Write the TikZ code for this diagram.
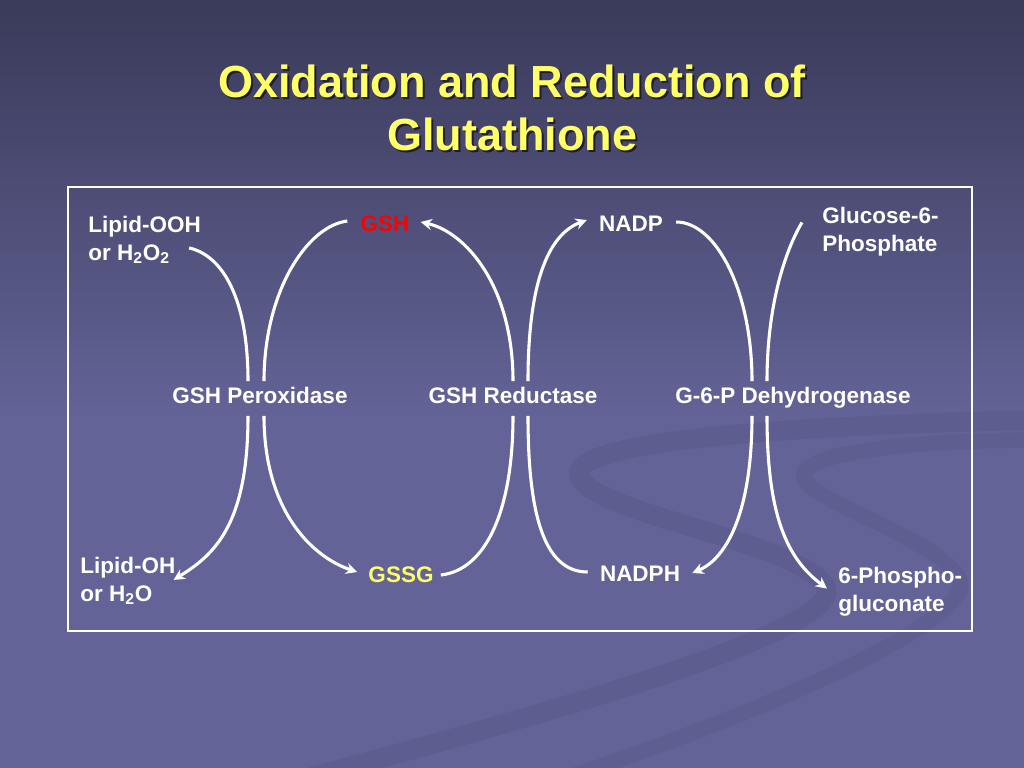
\documentclass[tikz,border=0pt]{standalone}
\usepackage{fontspec}
\setmainfont{Liberation Sans}
\usepackage{tikz}
\usetikzlibrary{arrows.meta}
\usetikzlibrary{calc}
\definecolor{slidetop}{RGB}{58,58,90}
\definecolor{slidebot}{RGB}{99,99,151}
\definecolor{titleyellow}{RGB}{255,255,102}
\definecolor{titleshade}{RGB}{28,28,45}
\definecolor{gshred}{RGB}{255,0,0}
\tikzset{>={Stealth[length=8pt,width=8pt]}}

\begin{document}
\begin{tikzpicture}[x=0.025cm, y=-0.025cm,
    every node/.style={text=white, inner sep=5pt, font=\bfseries\fontsize{16}{20}\selectfont},
    titletext/.style={align=center, inner sep=0pt, font=\bfseries\fontsize{32}{37.7}\selectfont},
    multi/.style={anchor=north west, align=left},
    enzyme/.style={anchor=base, text height=0.75em, text depth=0.25em},
    flow/.style={draw=white, line width=2.2pt}]

    % slide background
    \useasboundingbox (0,0) rectangle (1024,768);
    \fill[slidebot] (0,0) rectangle (1024,768);
    \shade[top color=slidetop, bottom color=slidebot] (0,0) rectangle (1024,420);
    \draw[black, opacity=0.05, line width=14pt]
        (1040,420) .. controls (800,425) and (560,440) .. (580,478)
        .. controls (600,515) and (790,540) .. (825,585)
        .. controls (850,625) and (600,700) .. (300,780);
    \draw[black, opacity=0.045, line width=11pt]
        (1040,440) .. controls (900,440) and (790,455) .. (805,480)
        .. controls (820,505) and (940,540) .. (960,580)
        .. controls (975,615) and (800,700) .. (560,780);

    % title
    \node[titletext, text=titleshade] (titleshadow) at (514,110) {Oxidation and Reduction of\\Glutathione};
    \node[titletext, text=titleyellow] (title) at (512,108) {Oxidation and Reduction of\\Glutathione};

    % frame
    \draw[white, line width=1pt] (68,187) rectangle (972,631);

    % substances
    \node[multi] (ooh) at (81,208.6) {Lipid-OOH\\or H\textsubscript{2}O\textsubscript{2}};
    \node[text=gshred] (gsh) at (385,224) {GSH};
    \node (nadp) at (631,224) {NADP};
    \node[multi] (g6p) at (815,199.6) {Glucose-6-\\Phosphate};
    \node[multi] (oh) at (73,549.6) {Lipid-OH\\or H\textsubscript{2}O};
    \node[text=titleyellow] (gssg) at (401,575) {GSSG};
    \node (nadph) at (640,574) {NADPH};
    \node[multi] (phos) at (831,559.6) {6-Phospho-\\gluconate};

    % enzymes
    \node[enzyme] (perox) at (260,403) {GSH Peroxidase};
    \node[enzyme] (reduc) at (513,403) {GSH Reductase};
    \node[enzyme] (dehyd) at (793,403) {G-6-P Dehydrogenase};

    % peroxidase
    \draw[flow] ($(ooh.east)+(-19,8)$) .. controls +(35,8) and +(0,-80) .. ($(perox.north)+(-12,-4)$);
    \draw[flow] ($(perox.north)+(4,-4)$) .. controls +(0,-90) and +(-40,5) .. ($(gsh.west)+(-6,-3)$);
    \draw[flow,->] ($(perox.south)+(-12,2)$) .. controls +(0,110) and +(40,-25) .. ($(oh.east)+(-9,-1)$);
    \draw[flow,->] ($(perox.south)+(4,2)$) .. controls +(0,95) and +(-45,-15) .. ($(gssg.west)+(-4,-3)$);

    % reductase
    \draw[flow] (gssg.east) .. controls +(45,-5) and +(0,95) .. ($(reduc.south)+(0,2)$);
    \draw[flow] ($(reduc.south)+(15,2)$) .. controls +(0,95) and +(-45,0) .. ($(nadph.west)+(-5,-2)$);
    \draw[flow,->] ($(reduc.north)+(0,-4)$) .. controls +(0,-95) and +(45,10) .. ($(gsh.east)+(4,-2)$);
    \draw[flow,->] ($(reduc.north)+(15,-4)$) .. controls +(0,-95) and +(-40,15) .. ($(nadp.west)+(-5,-4)$);

    % dehydrogenase
    \draw[flow] ($(nadp.east)+(6,-2)$) .. controls +(40,0) and +(0,-90) .. ($(dehyd.north)+(-41,-4)$);
    \draw[flow] ($(dehyd.north)+(-26,-4)$) .. controls +(0,-80) and +(-15,25) .. ($(g6p.west)+(-13,-9)$);
    \draw[flow,->] ($(dehyd.south)+(-41,2)$) .. controls +(0,95) and +(35,-15) .. ($(nadph.east)+(5,-1)$);
    \draw[flow,->] ($(dehyd.south)+(-26,2)$) .. controls +(0,100) and +(-40,-30) .. ($(phos.west)+(-4,-3)$);

\end{tikzpicture}
\end{document}
